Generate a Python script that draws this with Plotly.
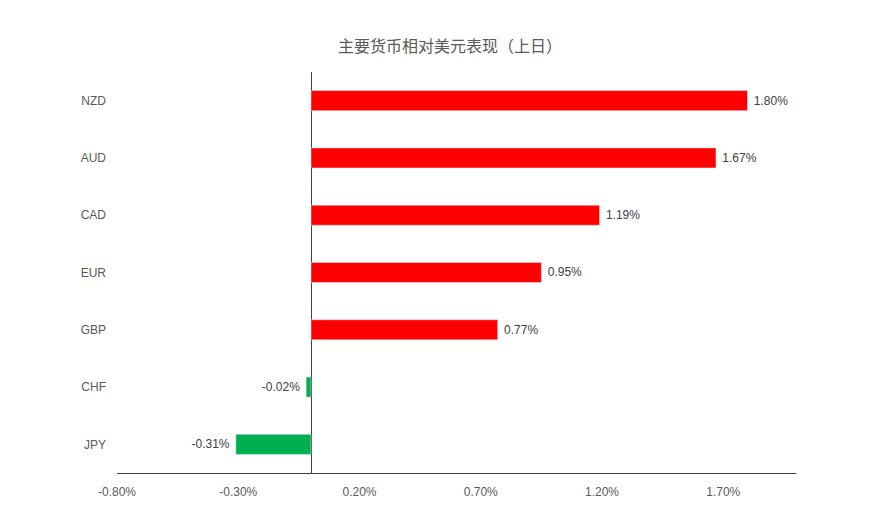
import plotly.graph_objects as go

# data, bottom to top
currencies = ["JPY", "CHF", "GBP", "EUR", "CAD", "AUD", "NZD"]
changes = [-0.31, -0.02, 0.77, 0.95, 1.19, 1.67, 1.80]
tick_vals = [-0.8, -0.3, 0.2, 0.7, 1.2, 1.7]
tick_text = ["-0.80%", "-0.30%", "0.20%", "0.70%", "1.20%", "1.70%"]

colors = ["#00b050" if v < 0 else "#ff0000" for v in changes]
labels = [f" {v:.2f}% " for v in changes]

fig = go.Figure(
    go.Bar(
        x=changes, y=currencies, orientation="h",
        marker_color=colors, width=0.35,
        text=labels, textposition="outside",
        textfont=dict(size=12, color="#404040"),
        cliponaxis=False,
    )
)

fig.update_layout(
    title=dict(text="主要货币相对美元表现（上日）", x=0.5, xanchor="center",
               y=0.925, yanchor="middle",
               font=dict(size=16, color="#595959", family="Noto Sans CJK SC")),
    width=884, height=518,
    paper_bgcolor="white", plot_bgcolor="white",
    font=dict(family="Liberation Sans, Arial, sans-serif", size=12, color="#595959"),
    margin=dict(l=109, r=96, t=64, b=53),
    showlegend=False,
)
fig.update_xaxes(range=[-0.8, 2.0], tickvals=tick_vals, ticktext=tick_text,
                 showgrid=False, zeroline=True, zerolinecolor="#404040", zerolinewidth=1,
                 showline=True, linecolor="#404040", linewidth=1, ticks="", ticklen=0,
                 ticklabelstandoff=8)
fig.update_yaxes(showgrid=False, showline=False, ticks="", ticklabelstandoff=10)

fig.write_html("out.html")
